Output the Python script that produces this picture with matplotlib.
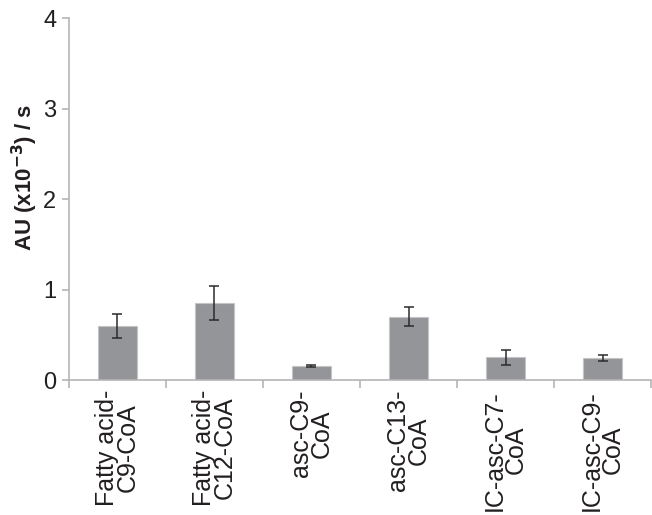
import numpy as np
import matplotlib
matplotlib.use('Agg')
import matplotlib.pyplot as plt

plt.rcParams['font.family'] = ['Liberation Sans', 'DejaVu Sans']

categories = ['Fatty acid-\nC9-CoA', 'Fatty acid-\nC12-CoA', 'asc-C9-\nCoA',
              'asc-C13-\nCoA', 'IC-asc-C7-\nCoA', 'IC-asc-C9-\nCoA']
values = [0.60, 0.85, 0.155, 0.70, 0.25, 0.245]
errors = [0.13, 0.19, 0.015, 0.105, 0.08, 0.03]

fig = plt.figure(figsize=(6.52, 5.15), dpi=100)
ax = fig.add_axes([0.1058, 0.262, 0.8927, 0.703])

x = np.arange(len(categories))
ax.bar(x, values, width=0.41, color='#939598', edgecolor='#c4c5c7', linewidth=0.8,
       yerr=errors, ecolor='#2b2b2b', capsize=3.5, error_kw={'elinewidth': 1.1, 'capthick': 1.1})

ax.set_xlim(-0.5, len(categories) - 0.5)
ax.set_ylim(0, 4)
ax.set_yticks([0, 1, 2, 3, 4])

gray = '#b5b5b5'
for s in ['top', 'right']:
    ax.spines[s].set_visible(False)
for s in ['left', 'bottom']:
    ax.spines[s].set_color(gray)
    ax.spines[s].set_linewidth(1.2)

ax.set_xticks(x)
ax.set_xticklabels(categories, rotation=90, fontsize=18, linespacing=0.85,
                   color='#231f20', va='top', ha='center')
ax.set_xticks(np.arange(len(categories) + 1) - 0.5, minor=True)
ax.tick_params(axis='x', which='major', length=0, pad=7)
ax.tick_params(axis='x', which='minor', length=6, color=gray, width=1.2)
ax.tick_params(axis='y', length=5, color=gray, width=1.2, pad=4,
               labelsize=17, labelcolor='#231f20')

ax.set_ylabel('AU (x10$^{\\mathbf{-3}}$) / s', fontsize=16, fontweight='bold',
              color='#231f20')
ax.yaxis.set_label_coords(-0.05, 0.56)

fig.savefig('out.png', dpi=100)
